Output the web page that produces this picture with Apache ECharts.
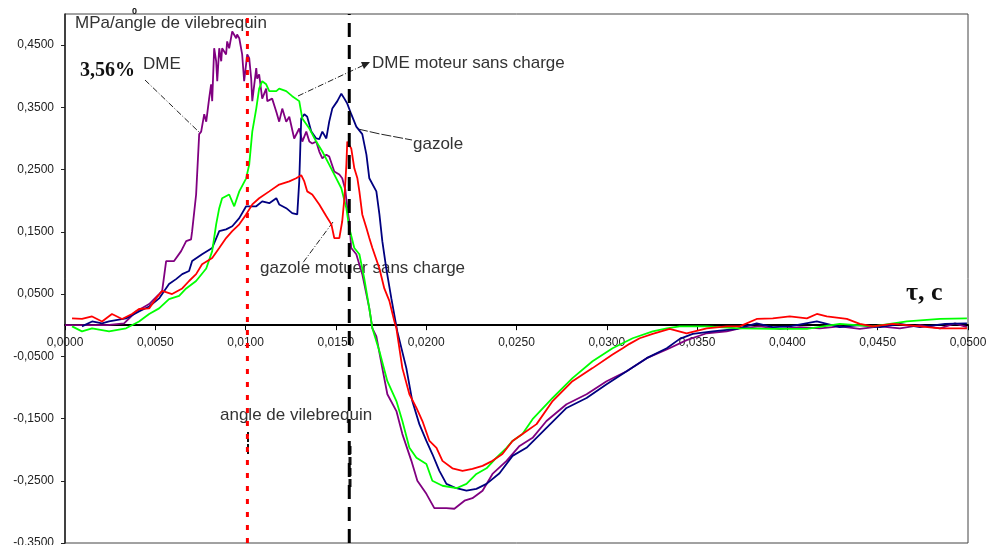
<!DOCTYPE html>
<html lang="fr">
<head>
    <meta charset="UTF-8">
    <title>Taux de dégagement de chaleur</title>
    <script type="text/javascript" src="https://cdn.jsdelivr.net/npm/echarts@6/dist/echarts.min.js"></script>
    <style>
        html, body { margin: 0; padding: 0; background: #fff; }
    </style>
</head>
<body>
<div id="main" style="width: 989px;height:545px;"></div>

<script>
    // axe du temps (s) et graduations
    var xTicks = [0, 0.005, 0.01, 0.015, 0.02, 0.025, 0.03, 0.035, 0.04, 0.045, 0.05];
    var yTicks = [-0.35, -0.25, -0.15, -0.05, 0.05, 0.15, 0.25, 0.35, 0.45];
    var yMin = -0.35, yMax = 0.5;
    // repères verticaux (angle de vilebrequin)
    var markerX = [0.0101, 0.01574];

    // DME 3,56%
    var dme = [[0,0],[0.00233,0],[0.00327,0.003],[0.00394,0.022],[0.00466,0.034],[0.00521,0.050],[0.00538,0.055],
        [0.0056,0.103],[0.00604,0.103],[0.00643,0.119],[0.00671,0.135],[0.00698,0.138],[0.00704,0.151],[0.00726,0.210],
        [0.00743,0.307],[0.00754,0.311],[0.00771,0.339],[0.00782,0.327],[0.00798,0.364],[0.00809,0.387],[0.00815,0.360],
        [0.00826,0.445],[0.00837,0.424],[0.00843,0.392],[0.00854,0.445],[0.00865,0.424],[0.0087,0.445],[0.00892,0.435],
        [0.00898,0.456],[0.00909,0.445],[0.00926,0.472],[0.00948,0.461],[0.00953,0.467],[0.00965,0.461],[0.00981,0.435],
        [0.00992,0.392],[0.01009,0.435],[0.0102,0.429],[0.01031,0.396],[0.01037,0.360],[0.01059,0.413],[0.01064,0.396],
        [0.01075,0.403],[0.01092,0.364],[0.01114,0.380],[0.0112,0.360],[0.01147,0.364],[0.0117,0.343],[0.01186,0.327],
        [0.01203,0.348],[0.01225,0.327],[0.01242,0.335],[0.01269,0.300],[0.01297,0.316],[0.01314,0.295],[0.01336,0.311],
        [0.01353,0.295],[0.01369,0.292],[0.01391,0.295],[0.01408,0.279],[0.01425,0.268],[0.01447,0.274],[0.01463,0.271],
        [0.01491,0.247],[0.01519,0.242],[0.01535,0.236],[0.01552,0.218],[0.01563,0.188],[0.01574,0.167],[0.01585,0.124],
        [0.01613,0.114],[0.01646,0.082],[0.01685,0.027],[0.01702,-0.005],[0.01724,-0.018],[0.01757,-0.069],[0.01785,-0.111],
        [0.01835,-0.138],[0.01868,-0.175],[0.01918,-0.218],[0.01951,-0.250],[0.02001,-0.271],[0.02045,-0.294],[0.02112,-0.294],
        [0.02156,-0.295],[0.02212,-0.282],[0.02256,-0.278],[0.02312,-0.266],[0.02367,-0.239],[0.02445,-0.218],[0.02517,-0.194],
        [0.02589,-0.181],[0.02666,-0.154],[0.02777,-0.127],[0.02888,-0.111],[0.02999,-0.090],[0.0311,-0.074],[0.03221,-0.053],
        [0.03332,-0.039],[0.03442,-0.024],[0.03553,-0.013],[0.03664,-0.010],[0.03736,-0.005],[0.03847,-0.002],[0.03958,-0.006],
        [0.04069,-0.003],[0.0418,-0.005],[0.0429,-0.002],[0.04401,-0.006],[0.04512,-0.002],[0.04623,-0.005],[0.04734,0],
        [0.04845,-0.005],[0.04928,0.003],[0.04994,-0.003]];

    // gazole
    var gazole = [[0.00094,-0.002],[0.0015,0.006],[0.00205,0.003],[0.00244,0.006],[0.00338,0.011],[0.0041,0.022],[0.00466,0.030],
        [0.00521,0.043],[0.00576,0.066],[0.00615,0.074],[0.00649,0.082],[0.00687,0.087],[0.00704,0.103],[0.00759,0.114],
        [0.00815,0.124],[0.00854,0.151],[0.00892,0.154],[0.00926,0.159],[0.00965,0.172],[0.01003,0.191],[0.01037,0.191],
        [0.01059,0.191],[0.01092,0.199],[0.01131,0.196],[0.0117,0.204],[0.01186,0.194],[0.01225,0.188],[0.01258,0.180],
        [0.01286,0.178],[0.01297,0.231],[0.01308,0.332],[0.01325,0.339],[0.01341,0.335],[0.01364,0.311],[0.01391,0.300],
        [0.01408,0.299],[0.01425,0.311],[0.01447,0.300],[0.01463,0.327],[0.0148,0.348],[0.01508,0.360],[0.0153,0.372],
        [0.01547,0.364],[0.01563,0.356],[0.01585,0.339],[0.01613,0.319],[0.01646,0.307],[0.01669,0.274],[0.01685,0.236],
        [0.01724,0.215],[0.01741,0.178],[0.01757,0.135],[0.01779,0.091],[0.01807,0.043],[0.0184,-0.010],[0.0189,-0.069],
        [0.01923,-0.122],[0.01962,-0.159],[0.02001,-0.186],[0.02034,-0.207],[0.02073,-0.234],[0.02112,-0.255],[0.02167,-0.262],
        [0.02223,-0.266],[0.02278,-0.263],[0.02334,-0.255],[0.02406,-0.238],[0.02478,-0.210],[0.02555,-0.197],[0.02666,-0.165],
        [0.02777,-0.133],[0.02888,-0.117],[0.02999,-0.095],[0.0311,-0.074],[0.03221,-0.053],[0.03332,-0.037],[0.03404,-0.022],
        [0.03476,-0.014],[0.03586,-0.010],[0.0372,-0.006],[0.0383,0.003],[0.03919,-0.003],[0.04013,-0.002],[0.04163,0.006],
        [0.0429,-0.003],[0.04401,0],[0.04512,-0.003],[0.04623,0.002],[0.04734,-0.003],[0.04873,0.002],[0.04994,0.003]];

    // DME moteur sans charge
    var dmeSansCharge = [[0.00039,-0.002],[0.00094,-0.010],[0.0015,-0.005],[0.00244,-0.010],[0.00338,-0.005],[0.0041,0.006],
        [0.00466,0.018],[0.00521,0.027],[0.00576,0.042],[0.00632,0.047],[0.00671,0.059],[0.00726,0.071],[0.00782,0.091],
        [0.00815,0.119],[0.00837,0.162],[0.00854,0.188],[0.0087,0.204],[0.00909,0.210],[0.00937,0.191],[0.00965,0.215],
        [0.01003,0.236],[0.0102,0.258],[0.01037,0.311],[0.01059,0.348],[0.01075,0.380],[0.01092,0.392],[0.01114,0.387],
        [0.01131,0.376],[0.0117,0.376],[0.01186,0.380],[0.01225,0.376],[0.01258,0.368],[0.01297,0.360],[0.01314,0.332],
        [0.01353,0.316],[0.01391,0.295],[0.01425,0.279],[0.01463,0.258],[0.01502,0.236],[0.0153,0.220],[0.01558,0.188],
        [0.01574,0.156],[0.01602,0.124],[0.0163,0.114],[0.01657,0.075],[0.01685,0.027],[0.01702,-0.005],[0.01741,-0.042],
        [0.01785,-0.090],[0.01835,-0.122],[0.01868,-0.154],[0.01907,-0.197],[0.01946,-0.213],[0.02001,-0.223],[0.02034,-0.250],
        [0.0209,-0.258],[0.02167,-0.262],[0.02223,-0.255],[0.02278,-0.239],[0.02334,-0.230],[0.02389,-0.213],[0.02445,-0.197],
        [0.02478,-0.186],[0.02533,-0.175],[0.02589,-0.151],[0.027,-0.117],[0.0281,-0.085],[0.02921,-0.058],[0.03032,-0.037],
        [0.03143,-0.021],[0.03254,-0.010],[0.03332,-0.005],[0.03404,-0.002],[0.03553,-0.002],[0.03736,-0.005],[0.03919,-0.006],
        [0.04108,-0.006],[0.0429,0.002],[0.04473,-0.002],[0.04662,0.006],[0.04845,0.010],[0.04994,0.011]];

    // gazole moteur sans charge
    var gazoleSansCharge = [[0.00039,0.011],[0.00094,0.010],[0.0015,0.014],[0.00205,0.006],[0.0026,0.018],[0.00316,0.010],
        [0.00371,0.018],[0.0041,0.026],[0.00466,0.027],[0.00504,0.043],[0.00538,0.055],[0.00593,0.050],[0.00649,0.059],
        [0.00687,0.071],[0.00726,0.082],[0.00759,0.098],[0.00815,0.108],[0.00854,0.124],[0.00892,0.140],[0.00926,0.151],
        [0.00965,0.162],[0.01003,0.178],[0.01037,0.194],[0.01075,0.204],[0.01131,0.215],[0.01186,0.226],[0.01242,0.231],
        [0.0128,0.236],[0.01308,0.241],[0.01325,0.231],[0.01341,0.215],[0.01369,0.210],[0.01408,0.194],[0.01447,0.175],
        [0.01475,0.162],[0.01491,0.140],[0.01519,0.140],[0.01535,0.167],[0.01547,0.204],[0.01558,0.258],[0.01563,0.295],
        [0.01585,0.284],[0.01602,0.252],[0.01619,0.236],[0.0163,0.215],[0.01646,0.178],[0.01669,0.156],[0.01685,0.140],
        [0.01702,0.124],[0.01741,0.091],[0.01768,0.059],[0.01796,0.039],[0.01824,0.006],[0.01835,-0.005],[0.01868,-0.069],
        [0.01907,-0.111],[0.01946,-0.133],[0.01979,-0.154],[0.02018,-0.186],[0.02057,-0.197],[0.0209,-0.218],[0.02145,-0.230],
        [0.02201,-0.234],[0.02256,-0.231],[0.02312,-0.226],[0.02367,-0.218],[0.02422,-0.207],[0.02478,-0.186],[0.02533,-0.175],
        [0.02611,-0.159],[0.027,-0.122],[0.0281,-0.090],[0.02921,-0.069],[0.03032,-0.047],[0.03088,-0.037],[0.03126,-0.030],
        [0.03182,-0.021],[0.03254,-0.014],[0.03348,-0.006],[0.03442,-0.013],[0.03553,-0.005],[0.03664,-0.002],[0.03736,-0.002],
        [0.0383,0.010],[0.03919,0.011],[0.04013,0.014],[0.04108,0.011],[0.04163,0.018],[0.04218,0.014],[0.04329,0.010],
        [0.04401,0.002],[0.04473,-0.002],[0.04584,0.002],[0.04734,-0.002],[0.04845,-0.005],[0.04994,-0.005]];
</script>

<script>
    function virgule(v) {
        return v.toFixed(4).replace('.', ',');
    }

    var myChart = echarts.init(document.getElementById('main'));

    var txtFont = '"Liberation Sans", Arial, sans-serif';
    var serifFont = '"Liberation Serif", "Times New Roman", serif';

    var gridTop = 14, gridBottom = 2;
    var gridH = 545 - gridTop - gridBottom;
    // l'axe des temps passe par zéro : décalage depuis le bas de la grille
    var zeroOffset = -gridH * (0 - yMin) / (yMax - yMin);

    function courbe(nom, couleur, data) {
        return {
            name: nom,
            type: 'line',
            data: data,
            symbol: 'none',
            lineStyle: {color: couleur, width: 1.8},
            itemStyle: {color: couleur}
        };
    }

    // les repères passent par-dessus les courbes
    function repere(x, couleur, tirets) {
        return {
            type: 'line',
            data: [[x, yMin], [x, yMax]],
            symbol: 'none',
            silent: true,
            z: 5,
            lineStyle: {color: couleur, width: 3, type: tirets}
        };
    }

    myChart.setOption({
        animation: false,
        grid: {
            left: 65, right: 21, top: gridTop, bottom: gridBottom,
            outerBoundsMode: 'none',
            containLabel: false,
            show: true, borderColor: '#444', borderWidth: 1
        },
        xAxis: {
            type: 'value',
            position: 'bottom',
            offset: zeroOffset,
            min: xTicks[0],
            max: xTicks[xTicks.length - 1],
            interval: 0.005,
            axisLine: {onZero: false, lineStyle: {color: '#000', width: 2}},
            axisTick: {show: true, length: 5, lineStyle: {color: '#000'}},
            axisLabel: {
                customValues: xTicks,
                formatter: virgule,
                margin: 12,
                fontSize: 12,
                fontFamily: txtFont,
                color: '#222',
                showMinLabel: true,
                showMaxLabel: true
            },
            splitLine: {show: false}
        },
        yAxis: {
            type: 'value',
            min: yMin,
            max: yMax,
            axisLine: {show: true, onZero: false, lineStyle: {color: '#222', width: 1.5}},
            axisTick: {show: true, length: 4, customValues: yTicks, lineStyle: {color: '#222'}},
            axisLabel: {
                customValues: yTicks,
                formatter: virgule,
                margin: 11,
                fontSize: 12,
                fontFamily: txtFont,
                color: '#222'
            },
            splitLine: {show: false}
        },
        series: [
            courbe('DME', '#800080', dme),
            courbe('gazole', '#000080', gazole),
            courbe('DME moteur sans charge', '#00ff00', dmeSansCharge),
            courbe('gazole moteur sans charge', '#ff0000', gazoleSansCharge),
            repere(markerX[0], '#ff0000', [5, 8]),
            repere(markerX[1], '#000000', [14, 8])
        ],
        graphic: [
            {type: 'text', x: 75, y: 23, style: {text: 'MPa/angle de vilebrequin', font: '17px ' + txtFont, fill: '#333', verticalAlign: 'middle'}},
            {type: 'text', x: 132, y: 12, style: {text: '0', font: 'bold 9px ' + txtFont, fill: '#111', verticalAlign: 'middle'}},
            {type: 'text', x: 80, y: 71, style: {text: '3,56%', font: 'bold 20px ' + serifFont, fill: '#111', verticalAlign: 'middle'}},
            {type: 'text', x: 143, y: 64, style: {text: 'DME', font: '17px ' + txtFont, fill: '#333', verticalAlign: 'middle'}},
            {type: 'text', x: 372, y: 63, style: {text: 'DME moteur sans charge', font: '17px ' + txtFont, fill: '#333', verticalAlign: 'middle'}},
            {type: 'text', x: 413, y: 144, style: {text: 'gazole', font: '17px ' + txtFont, fill: '#333', verticalAlign: 'middle'}},
            {type: 'text', x: 260, y: 268, style: {text: 'gazole motuer sans charge', font: '17px ' + txtFont, fill: '#333', verticalAlign: 'middle'}},
            {type: 'text', x: 220, y: 415, style: {text: 'angle de vilebrequin', font: '17px ' + txtFont, fill: '#333', verticalAlign: 'middle'}},
            {type: 'text', x: 906, y: 293, style: {text: 'τ, c', font: 'bold 26px ' + serifFont, fill: '#111', verticalAlign: 'middle'}},
            // traits de rappel
            {type: 'polyline', shape: {points: [[145, 80], [200, 133]]}, style: {stroke: '#222', lineWidth: 1, lineDash: [6, 2, 1, 2]}},
            {type: 'polyline', shape: {points: [[298, 96], [364, 65]]}, style: {stroke: '#222', lineWidth: 1, lineDash: [6, 2, 1, 2]}},
            {type: 'polygon', shape: {points: [[370, 62], [361, 62], [364, 69]]}, style: {fill: '#222'}},
            {type: 'polyline', shape: {points: [[358, 129], [380, 134], [412, 140]]}, style: {stroke: '#222', lineWidth: 1, lineDash: [10, 2]}},
            {type: 'polyline', shape: {points: [[333, 222], [302, 264]]}, style: {stroke: '#222', lineWidth: 1, lineDash: [6, 2, 1, 2]}},
            {type: 'polyline', shape: {points: [[248, 432], [248, 456]]}, style: {stroke: '#111', lineWidth: 2, lineDash: [4, 2]}},
            {type: 'polyline', shape: {points: [[350, 446], [350, 490]]}, style: {stroke: '#111', lineWidth: 3, lineDash: [8, 3]}}
        ]
    });
</script>

</body>
</html>
